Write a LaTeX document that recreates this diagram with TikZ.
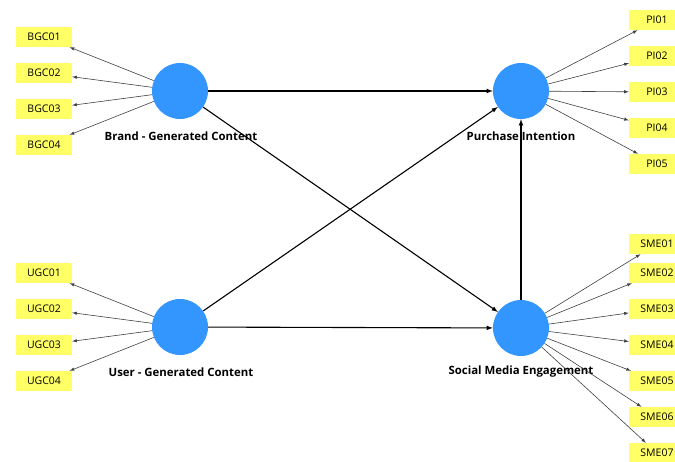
\documentclass[tikz,border=0pt]{standalone}
\usepackage{fontspec}
\setmainfont{Open Sans}
\usepackage{xcolor}
\usetikzlibrary{arrows}

\definecolor{lvblue}{RGB}{51,150,255}
\definecolor{mvyellow}{RGB}{255,255,102}

\begin{document}
\begin{tikzpicture}[x=1pt, y=-1pt,
    latent/.style = {circle, fill=lvblue, minimum size=56pt, inner sep=0pt},
    item/.style = {rectangle, fill=mvyellow, minimum width=56pt, minimum height=20pt, inner sep=0pt, font=\fontsize{10.5}{11}\selectfont},
    lvname/.style = {font=\fontsize{11.4}{13}\selectfont\bfseries},
    load/.style = {-{latex[scale=1.4]}, line width=0.6pt, draw=black!75},
    path/.style = {-{latex[scale=1.2]}, line width=1.1pt}]
    \useasboundingbox (0,0) rectangle (675,461);

	\node (bgc) at (180,91) [latent] {};
	\node (ugc) at (180,327) [latent] {};
	\node (pi) at (521,91) [latent] {};
	\node (sme) at (521,328) [latent] {};

	\node (bgclab) at (181,136) [lvname] {Brand - Generated Content};
	\node (ugclab) at (181,372) [lvname] {User - Generated Content};
	\node (pilab) at (521,136) [lvname] {Purchase Intention};
	\node (smelab) at (521,372) [lvname] {Social Media Engagement};

	\node (bgc1) at (44,37) [item] {BGC01};
	\node (bgc2) at (44,73) [item] {BGC02};
	\node (bgc3) at (44,109) [item] {BGC03};
	\node (bgc4) at (44,145) [item] {BGC04};

	\node (ugc1) at (44,273) [item] {UGC01};
	\node (ugc2) at (44,309) [item] {UGC02};
	\node (ugc3) at (44,345) [item] {UGC03};
	\node (ugc4) at (44,381) [item] {UGC04};

	\node (pi1) at (657,20) [item] {PI01};
	\node (pi2) at (657,56) [item] {PI02};
	\node (pi3) at (657,92) [item] {PI03};
	\node (pi4) at (657,128) [item] {PI04};
	\node (pi5) at (657,164) [item] {PI05};

	\node (sme1) at (657,244) [item] {SME01};
	\node (sme2) at (657,273) [item] {SME02};
	\node (sme3) at (657,309) [item] {SME03};
	\node (sme4) at (657,345) [item] {SME04};
	\node (sme5) at (657,381) [item] {SME05};
	\node (sme6) at (657,417) [item] {SME06};
	\node (sme7) at (657,453) [item] {SME07};

	\draw [load] (bgc) -- (bgc1);
	\draw [load] (bgc) -- (bgc2);
	\draw [load] (bgc) -- (bgc3);
	\draw [load] (bgc) -- (bgc4);

	\draw [load] (ugc) -- (ugc1);
	\draw [load] (ugc) -- (ugc2);
	\draw [load] (ugc) -- (ugc3);
	\draw [load] (ugc) -- (ugc4);

	\draw [load] (pi) -- (pi1);
	\draw [load] (pi) -- (pi2);
	\draw [load] (pi) -- (pi3);
	\draw [load] (pi) -- (pi4);
	\draw [load] (pi) -- (pi5);

	\draw [load] (sme) -- (sme1);
	\draw [load] (sme) -- (sme2);
	\draw [load] (sme) -- (sme3);
	\draw [load] (sme) -- (sme4);
	\draw [load] (sme) -- (sme5);
	\draw [load] (sme) -- (sme6);
	\draw [load] (sme) -- (sme7);

	\draw [path] (bgc) -- (pi);
	\draw [path] (bgc) -- (sme);
	\draw [path] (ugc) -- (pi);
	\draw [path] (ugc) -- (sme);
	\draw [path] (sme) -- (pi);
\end{tikzpicture}
\end{document}
